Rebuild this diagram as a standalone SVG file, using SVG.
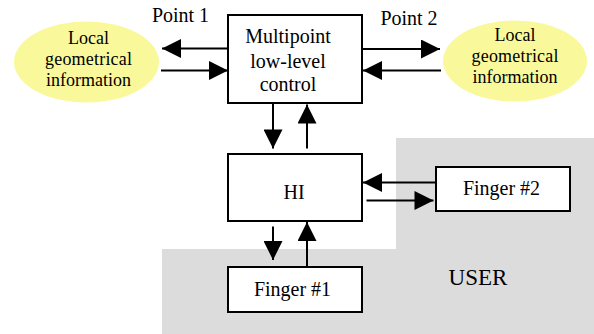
<svg xmlns="http://www.w3.org/2000/svg" width="594" height="334" viewBox="0 0 594 334">
<style>
.box{fill:#fff;stroke:#000;stroke-width:2}
.ell{fill:#f9f99c;stroke:none}
text{font-family:"Liberation Serif","Times New Roman",serif;fill:#000;text-anchor:middle}
.t20{font-size:20px}
.t18{font-size:18px}
.conn line{stroke:#000;stroke-width:2;marker-end:url(#ah)}
</style>
<defs>
<marker id="ah" viewBox="0 0 20 20" refX="20" refY="10" markerWidth="20" markerHeight="19" markerUnits="userSpaceOnUse" orient="auto">
<path d="M0,0 L20,10 L0,20 z" fill="#000"/>
</marker>
</defs>
<polygon id="user-area" points="396,138 594,138 594,334 162,334 162,249 396,249" fill="#dcdcdc"/>
<text x="478" y="284.5" font-size="23">USER</text>
<g id="local1">
<ellipse class="ell" cx="86.5" cy="62" rx="72.5" ry="40.5"/>
<text class="t18" x="88.5" y="43.5">Local</text>
<text class="t18" x="88.5" y="64.5" textLength="87" lengthAdjust="spacing">geometrical</text>
<text class="t18" x="88.5" y="86">information</text>
</g>
<g id="local2">
<ellipse class="ell" cx="515" cy="61" rx="72" ry="40.5"/>
<text class="t18" x="515" y="40.5">Local</text>
<text class="t18" x="515" y="62" textLength="87" lengthAdjust="spacing">geometrical</text>
<text class="t18" x="515" y="83">information</text>
</g>
<g id="multipoint">
<rect class="box" x="228" y="15" width="134" height="88"/>
<text class="t20" x="288" y="42.5">Multipoint</text>
<text class="t20" x="288" y="67.5">low-level</text>
<text class="t20" x="288" y="91">control</text>
</g>
<g id="hi">
<rect class="box" x="228" y="154" width="134" height="67"/>
<text class="t20" x="294" y="199">HI</text>
</g>
<g id="finger1">
<rect class="box" x="228" y="267" width="134" height="45"/>
<text class="t20" x="292.5" y="295.5">Finger #1</text>
</g>
<g id="finger2">
<rect class="box" x="436" y="167" width="134" height="44"/>
<text class="t20" x="501.5" y="195">Finger #2</text>
</g>
<text class="t20" x="180.5" y="22">Point 1</text>
<text class="t20" x="409" y="25">Point 2</text>
<g class="conn" id="connectors">
<line x1="228" y1="48.5" x2="162" y2="48.5"/>
<line x1="161" y1="70.5" x2="228" y2="70.5"/>
<line x1="362" y1="49" x2="440" y2="49"/>
<line x1="441" y1="70.5" x2="363" y2="70.5"/>
<line x1="273" y1="103" x2="273" y2="148.5"/>
<line x1="307" y1="148.5" x2="307" y2="104.5"/>
<line x1="273" y1="226.5" x2="273" y2="260"/>
<line x1="307" y1="267" x2="307" y2="222"/>
<line x1="436" y1="182.5" x2="363" y2="182.5"/>
<line x1="366.5" y1="200.5" x2="433.5" y2="200.5"/>
</g>
</svg>
